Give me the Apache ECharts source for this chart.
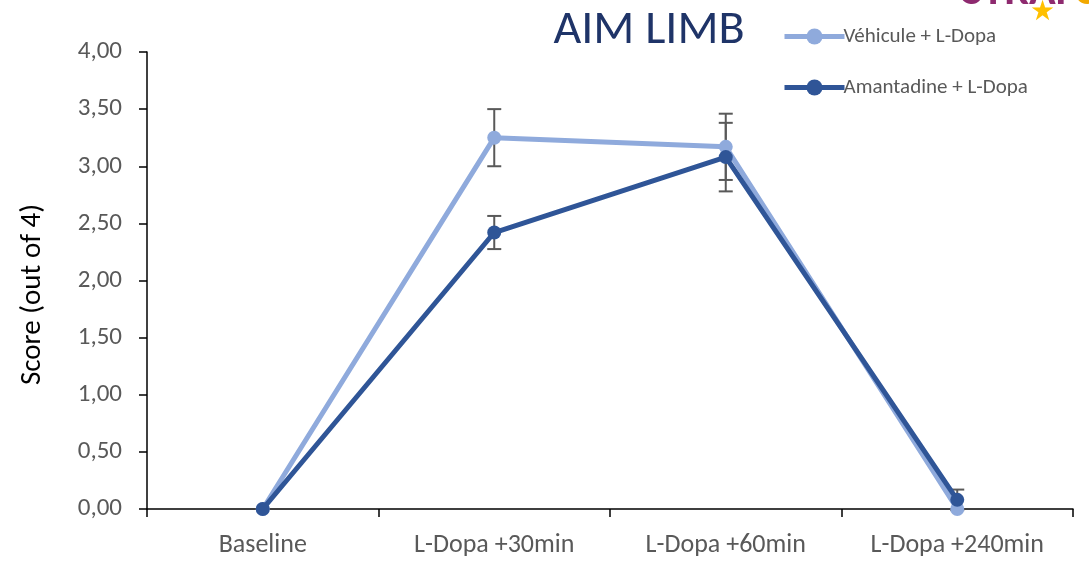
<!DOCTYPE html>
<html>
<head>
<meta charset="utf-8">
<script src="https://cdn.jsdelivr.net/npm/echarts@6/dist/echarts.min.js"></script>
<style>
  html, body { margin: 0; padding: 0; background: #fff; }
  #chart { width: 1089px; height: 562px; }
</style>
</head>
<body>
<div id="chart"></div>
<script>
// Time points after L-Dopa injection
const categories = ['Baseline', 'L-Dopa +30min', 'L-Dopa +60min', 'L-Dopa +240min'];

// Mean limb AIM score per group
const vehiculeMeans = [0, 3.25, 3.17, 0];
const amantadineMeans = [0, 2.42, 3.08, 0.08];

// Standard error per group
const vehiculeErr = [0, 0.25, 0.29, 0];
const amantadineErr = [0, 0.145, 0.30, 0.09];

const yTicks = [0, 0.5, 1, 1.5, 2, 2.5, 3, 3.5, 4];

const lightBlue = '#8FAADC';
const darkBlue = '#2F5597';
const labelFont = 'Carlito, "Liberation Sans", "Open Sans", sans-serif';

function errorData(means, errs) {
  return means.map((m, i) => [i, m - errs[i], m + errs[i]]);
}

function renderErrorBar(params, api) {
  const x = api.value(0);
  const lo = api.coord([x, api.value(1)]);
  const hi = api.coord([x, api.value(2)]);
  const half = 7;
  const style = { stroke: '#595959', lineWidth: 2 };
  if (Math.abs(hi[1] - lo[1]) < 1) return null;
  return {
    type: 'group',
    children: [
      { type: 'line', shape: { x1: lo[0], y1: lo[1], x2: hi[0], y2: hi[1] }, style },
      { type: 'line', shape: { x1: lo[0] - half, y1: lo[1], x2: lo[0] + half, y2: lo[1] }, style },
      { type: 'line', shape: { x1: hi[0] - half, y1: hi[1], x2: hi[0] + half, y2: hi[1] }, style }
    ]
  };
}

const chart = echarts.init(document.getElementById('chart'), null, { renderer: 'canvas' });

chart.setOption({
  backgroundColor: '#ffffff',
  animation: false,
  title: {
    text: 'AIM LIMB',
    left: 644,
    textAlign: 'center',
    top: 2,
    textStyle: { fontFamily: labelFont, fontSize: 48, fontWeight: 'normal', color: '#1F3468' }
  },
  graphic: [
    {
      type: 'text',
      left: 962,
      top: -29,
      style: { text: 'STRAP', font: 'bold 44px ' + labelFont, fill: '#8E2A6F' }
    },
    {
      type: 'text',
      left: 1074,
      top: -29,
      style: { text: 'C', font: 'bold 44px ' + labelFont, fill: '#F2A900' }
    },
    {
      type: 'text',
      left: 1030,
      top: -1,
      style: { text: '★', font: '28px "DejaVu Sans", sans-serif', fill: '#FFC000' }
    }
  ],
  legend: {
    orient: 'vertical',
    left: 777,
    top: 21,
    itemGap: 30,
    itemWidth: 60,
    itemHeight: 20,
    lineStyle: { width: 5 },
    textStyle: { fontFamily: labelFont, fontSize: 21, color: '#595959', padding: [0, 0, 0, -6] },
    data: ['Véhicule + L-Dopa', 'Amantadine + L-Dopa']
  },
  grid: { left: 147, right: 16, top: 52, bottom: 53, containLabel: false },
  xAxis: {
    type: 'category',
    data: categories,
    boundaryGap: true,
    axisLine: { lineStyle: { color: '#000', width: 1.5 } },
    axisTick: { show: true, inside: false, length: 8, interval: 0, alignWithLabel: false, lineStyle: { color: '#000', width: 1.5 } },
    axisLabel: { interval: 0, hideOverlap: false, fontFamily: labelFont, fontSize: 26, color: '#595959', margin: 23 },
    splitLine: { show: false }
  },
  yAxis: {
    type: 'value',
    min: 0,
    max: 4,
    interval: 0.5,
    name: 'Score (out of 4)',
    nameLocation: 'middle',
    nameGap: 100,
    nameRotate: 90,
    nameTextStyle: { fontFamily: labelFont, fontSize: 29, color: '#000', padding: [0, 28, 0, 0] },
    axisLine: { show: true, lineStyle: { color: '#000', width: 1.5 } },
    axisTick: { show: true, length: 8, lineStyle: { color: '#000', width: 1.5 } },
    axisLabel: {
      fontFamily: labelFont,
      fontSize: 25,
      color: '#595959',
      margin: 25,
      formatter: v => yTicks.includes(v) ? v.toFixed(2).replace('.', ',') : ''
    },
    splitLine: { show: false }
  },
  series: [
    {
      name: 'Véhicule + L-Dopa',
      type: 'line',
      data: vehiculeMeans,
      symbol: 'circle',
      symbolSize: 14,
      lineStyle: { color: lightBlue, width: 5 },
      itemStyle: { color: lightBlue },
      z: 3
    },
    {
      name: 'Amantadine + L-Dopa',
      type: 'line',
      data: amantadineMeans,
      symbol: 'circle',
      symbolSize: 14,
      lineStyle: { color: darkBlue, width: 5 },
      itemStyle: { color: darkBlue },
      z: 4
    },
    {
      type: 'custom',
      name: 'errVehicule',
      data: errorData(vehiculeMeans, vehiculeErr),
      renderItem: renderErrorBar,
      z: 2,
      silent: true
    },
    {
      type: 'custom',
      name: 'errAmantadine',
      data: errorData(amantadineMeans, amantadineErr),
      renderItem: renderErrorBar,
      z: 2,
      silent: true
    }
  ]
});
</script>
</body>
</html>
